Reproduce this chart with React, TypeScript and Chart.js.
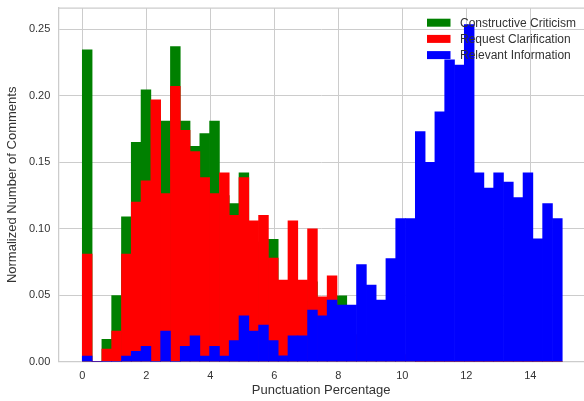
import React, { useEffect, useRef } from "react";
import { Chart, registerables } from "chart.js";

Chart.register(...registerables);

// ---- data ----
const binStart = 0;
const binEnd = 15;
const binCount = 49;

const seriesLabels = ["Constructive Criticism", "Request Clarification", "Relevant Information"];
const seriesColors = ["#008000", "#ff0000", "#0000ff"];

const constructiveCriticism = [
  0.2345, 0, 0.0168, 0.0498, 0.1089, 0.165, 0.2045, 0.185, 0.181, 0.237,
  0.181, 0.162, 0.1715, 0.181, 0.125, 0.119, 0.142, 0.09, 0.085, 0.092,
  0.05, 0.06, 0.045, 0.06, 0.03, 0.04, 0.0496, 0.02, 0.02, 0.01,
  0.015, 0.01, 0.005, 0.005, 0, 0, 0, 0, 0, 0,
  0, 0, 0, 0, 0, 0, 0, 0, 0,
];

const requestClarification = [
  0.0809, 0, 0.0095, 0.023, 0.0809, 0.12, 0.136, 0.197, 0.1264, 0.207,
  0.174, 0.158, 0.1384, 0.1264, 0.142, 0.11, 0.1384, 0.106, 0.11, 0.078,
  0.0613, 0.106, 0.0613, 0.1, 0.0488, 0.0646, 0.03, 0.02, 0.015, 0.02,
  0.01, 0.01, 0.005, 0.005, 0, 0, 0, 0, 0, 0,
  0, 0, 0, 0, 0, 0, 0, 0, 0,
];

const relevantInformation = [
  0.0043, 0, 0, 0, 0.0043, 0.0078, 0.0115, 0, 0.023, 0,
  0.0115, 0.0195, 0.0043, 0.0115, 0.0043, 0.0158, 0.0345, 0.023, 0.0275, 0.0158,
  0.0045, 0.0195, 0.0195, 0.0388, 0.0345, 0.0463, 0.0426, 0.0426, 0.0731, 0.0576,
  0.0463, 0.0776, 0.1077, 0.1077, 0.173, 0.15, 0.188, 0.227, 0.223, 0.2535,
  0.142, 0.1306, 0.142, 0.135, 0.1234, 0.142, 0.0924, 0.119, 0.1077,
];

const xAxisTitle = "Punctuation Percentage";
const yAxisTitle = "Normalized Number of Comments";

const FONT = "'Liberation Sans', Arial, sans-serif";
const TEXT = "#333333";
const GRID = "#cccccc";

const binWidth = (binEnd - binStart) / binCount;
const toPoints = (vals: number[]) =>
  vals.map((v, i) => ({ x: binStart + (i + 0.5) * binWidth, y: v }));

const framePlugin = {
  id: "frameTop",
  beforeDatasetsDraw(chart: any) {
    const { ctx, chartArea } = chart;
    ctx.save();
    ctx.strokeStyle = GRID;
    ctx.lineWidth = 1.25;
    ctx.beginPath();
    ctx.moveTo(chartArea.left, chartArea.top);
    ctx.lineTo(chartArea.right, chartArea.top);
    ctx.stroke();
    ctx.restore();
  },
};

const legendPlugin = {
  id: "insideLegend",
  afterDatasetsDraw(chart: any) {
    const { ctx } = chart;
    ctx.save();
    ctx.font = `12px ${FONT}`;
    ctx.textBaseline = "middle";
    ctx.textAlign = "left";
    seriesLabels.forEach((label, i) => {
      const cy = 22.7 + i * 16.2;
      ctx.fillStyle = seriesColors[i];
      ctx.fillRect(427, cy - 4, 23.5, 8);
      ctx.fillStyle = TEXT;
      ctx.fillText(label, 460, cy + 0.5);
    });
    ctx.restore();
  },
};

export default function App() {
  const ref = useRef<HTMLCanvasElement | null>(null);

  useEffect(() => {
    if (!ref.current) return;
    Chart.defaults.font.family = FONT;
    const seriesValues = [constructiveCriticism, requestClarification, relevantInformation];
    const chart = new Chart(ref.current, {
      type: "bar",
      data: {
        datasets: seriesValues.map((vals, i) => ({
          label: seriesLabels[i],
          data: toPoints(vals),
          backgroundColor: seriesColors[i],
          borderWidth: 0,
          grouped: false,
          barPercentage: 1,
          categoryPercentage: 1,
          order: 3 - i,
        })),
      } as any,
      options: {
        animation: false,
        responsive: false,
        events: [],
        layout: { padding: { top: 8, left: 0, right: 0, bottom: 0 } },
        plugins: {
          legend: { display: false },
          tooltip: { enabled: false },
        },
        scales: {
          x: {
            type: "linear",
            min: -0.75,
            max: 15.68,
            offset: false,
            grid: { color: GRID, lineWidth: 1, drawTicks: false, offset: false },
            border: { display: true, color: GRID, width: 1.25 },
            ticks: {
              stepSize: 2,
              includeBounds: false,
              padding: 8,
              color: TEXT,
              font: { size: 11, family: FONT },
              maxRotation: 0,
              callback: (v: any) => String(v),
            },
            title: {
              display: true,
              text: xAxisTitle,
              color: TEXT,
              font: { size: 13, family: FONT },
              padding: { top: 0, bottom: 3 },
            },
            afterFit: (s: any) => {
              s.height = 39.3;
              s.paddingLeft = 0;
              s.paddingRight = 0;
            },
          },
          y: {
            type: "linear",
            min: 0,
            max: 0.266,
            grid: { color: GRID, lineWidth: 1, drawTicks: false },
            border: { display: true, color: GRID, width: 1.25 },
            ticks: {
              stepSize: 0.05,
              includeBounds: false,
              padding: 8,
              color: TEXT,
              font: { size: 11, family: FONT },
              callback: (v: any) => Number(v).toFixed(2),
            },
            title: {
              display: true,
              text: yAxisTitle,
              color: TEXT,
              font: { size: 13, family: FONT },
              padding: { top: 5, bottom: 0 },
            },
            afterFit: (s: any) => {
              s.width = 58.3;
              s.paddingTop = 0;
              s.paddingBottom = 0;
            },
          },
        },
      } as any,
      plugins: [framePlugin, legendPlugin],
    });
    return () => chart.destroy();
  }, []);

  return (
    <div style={{ position: "fixed", left: 0, top: 0, width: 584, height: 401, background: "#fff" }}>
      <canvas ref={ref} width={584} height={401} style={{ display: "block" }} />
    </div>
  );
}
